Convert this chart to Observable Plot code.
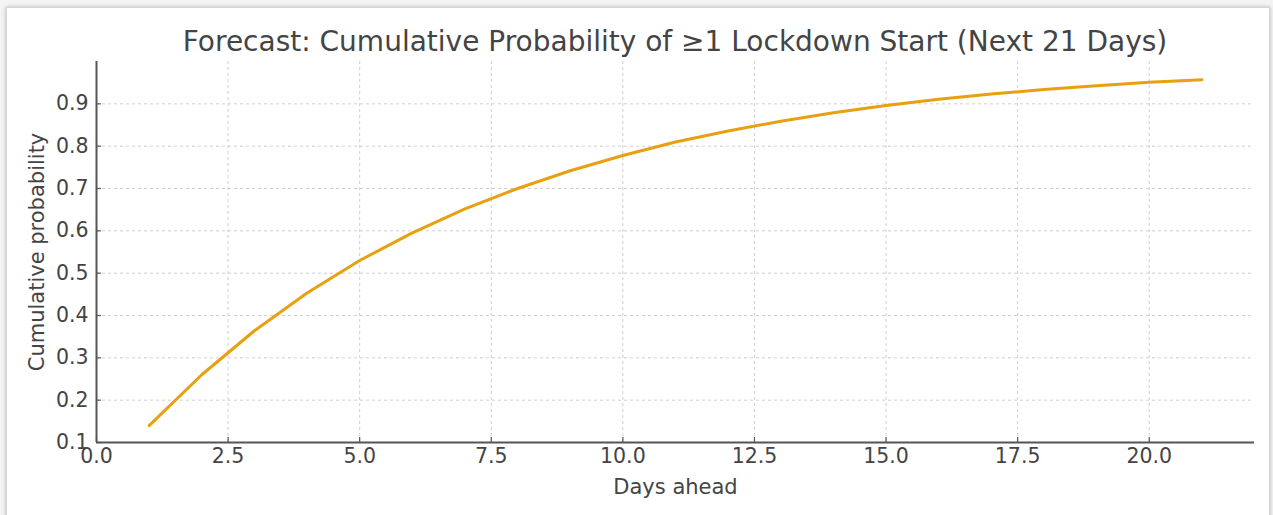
<!DOCTYPE html>
<html>
<head>
<meta charset="utf-8">
<script src="https://cdn.jsdelivr.net/npm/d3@7"></script>
<script src="https://cdn.jsdelivr.net/npm/@observablehq/plot@0.6"></script>
<style>
  html, body { margin: 0; padding: 0; background: #f4f4f4; }
  body { width: 1273px; height: 515px; overflow: hidden; position: relative; font-family: "DejaVu Sans", sans-serif; }
  #card { position: absolute; left: 6px; top: 7px; width: 1262px; height: 530px; background: #fff;
          border: 1px solid #d6d6d6; box-shadow: 0 0 4px rgba(0,0,0,0.25); }
  #chart { position: absolute; left: 0; top: 0; }
  #chart svg g[aria-label$="tick label"] { font-size: 20.5px !important; }
  #title { position: absolute; left: 0; width: 1350px; top: 25px; text-align: center; font-size: 28px; color: #444; line-height: 34px; }
</style>
</head>
<body>
<div id="card"></div>
<div id="chart"></div>
<div id="title">Forecast: Cumulative Probability of ≥1 Lockdown Start (Next 21 Days)</div>
<script>
const days = [1,2,3,4,5,6,7,8,9,10,11,12,13,14,15,16,17,18,19,20,21];
const cumProb = [0.14,0.26,0.364,0.453,0.53,0.595,0.652,0.70,0.742,0.778,0.81,0.836,0.859,0.879,0.896,0.911,0.923,0.934,0.943,0.951,0.957];
const xTicks = [0,2.5,5,7.5,10,12.5,15,17.5,20];
const yTicks = [0.1,0.2,0.3,0.4,0.5,0.6,0.7,0.8,0.9];

const data = days.map((d, i) => ({day: d, p: cumProb[i]}));

const plot = Plot.plot({
  width: 1273,
  height: 515,
  marginLeft: 96,
  marginRight: 19,
  marginTop: 61,
  marginBottom: 73,
  style: {fontFamily: "DejaVu Sans, sans-serif", fontSize: "20px", color: "#444", background: "transparent"},
  x: {domain: [0, 22]},
  y: {domain: [0.1, 1.0]},
  marks: [
    Plot.gridX(xTicks, {stroke: "#cfcfcf", strokeOpacity: 1, strokeDasharray: "3,3", strokeWidth: 1}),
    Plot.gridY(yTicks, {stroke: "#cfcfcf", strokeOpacity: 1, strokeDasharray: "3,3", strokeWidth: 1}),
    Plot.axisX({ticks: xTicks, tickFormat: d => d.toFixed(1), tickSize: 0, tickPadding: 6, label: null, fill: "#444", fontSize: 20.5}),
    Plot.axisX({ticks: xTicks, text: null, tickSize: -5, stroke: "#555", strokeWidth: 1.2, label: null}),
    Plot.axisY({ticks: yTicks, tickFormat: d => d.toFixed(1), tickSize: 0, tickPadding: 8, label: null, fill: "#444", fontSize: 20.5}),
    Plot.axisY({ticks: yTicks, text: null, tickSize: -5, stroke: "#555", strokeWidth: 1.2, label: null}),
    Plot.ruleX([0], {stroke: "#555", strokeWidth: 2}),
    Plot.ruleY([0.1], {stroke: "#555", strokeWidth: 2}),
    Plot.line(data, {x: "day", y: "p", stroke: "#e8a010", strokeWidth: 3}),
    Plot.text(["Days ahead"], {frameAnchor: "bottom", dy: 51, fontSize: 21, fill: "#444", text: d => d}),
    Plot.text(["Cumulative probability"], {frameAnchor: "left", textAnchor: "middle", dx: -59, rotate: -90, fontSize: 21, fill: "#444", text: d => d})
  ]
});
document.getElementById("chart").appendChild(plot);
</script>
</body>
</html>
